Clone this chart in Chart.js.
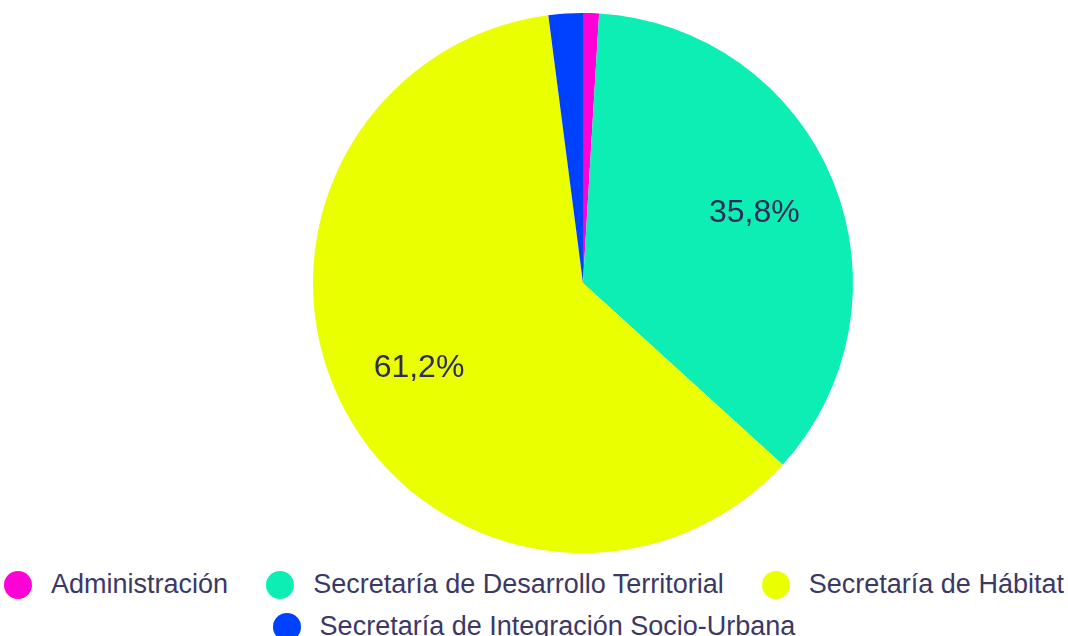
<!DOCTYPE html>
<html>
<head>
<meta charset="utf-8">
<script src="https://cdn.jsdelivr.net/npm/chart.js"></script>
<style>
    html, body { margin: 0; padding: 0; background: #fff; }
    body { width: 1068px; height: 636px; overflow: hidden; font-family: "Liberation Sans", Arial, sans-serif; }
    #wrap { width: 1068px; height: 566px; position: relative; }
    #legend { display: flex; flex-wrap: wrap; justify-content: center; column-gap: 38px; width: 1068px; margin-top: -2px; }
    #legend .item { display: flex; align-items: center; height: 41px; }
    #legend .item:nth-child(4) { position: relative; top: 1px; }
    #legend .dot { width: 28px; height: 28px; border-radius: 50%; margin-right: 19px; }
    #legend .txt { font-size: 27px; color: #3c3866; white-space: nowrap; }
</style>
</head>
<body>
<div id="wrap"><canvas id="pieChart"></canvas></div>
<div id="legend"></div>
<script>
// Datos del gráfico
const categorias = [
    'Administración',
    'Secretaría de Desarrollo Territorial',
    'Secretaría de Hábitat',
    'Secretaría de Integración Socio-Urbana'
];
const valores = [0.95, 35.8, 61.2, 2.05];
const colores = ['#FF00D6', '#0DEEB4', '#EAFF00', '#0040FF'];

// Porcentajes dentro de los sectores grandes
const etiquetasPct = {
    id: 'etiquetasPct',
    afterDatasetsDraw(chart) {
        const ctx = chart.ctx;
        const meta = chart.getDatasetMeta(0);
        const total = valores.reduce((a, b) => a + b, 0);
        ctx.save();
        ctx.font = '32px "Liberation Sans", Arial, sans-serif';
        ctx.fillStyle = '#2e2b58';
        ctx.textAlign = 'center';
        ctx.textBaseline = 'middle';
        meta.data.forEach((arc, i) => {
            const pct = valores[i] / total * 100;
            if (pct < 5) return;
            const p = arc.getProps(['x', 'y', 'startAngle', 'endAngle', 'outerRadius'], true);
            const mid = (p.startAngle + p.endAngle) / 2;
            const r = p.outerRadius * 0.685;
            ctx.fillText(pct.toFixed(1).replace('.', ',') + '%', p.x + Math.cos(mid) * r, p.y + Math.sin(mid) * r);
        });
        ctx.restore();
    }
};

const chart = new Chart(document.getElementById('pieChart'), {
    type: 'pie',
    data: {
        labels: categorias,
        datasets: [{
            data: valores,
            backgroundColor: colores,
            borderWidth: 0
        }]
    },
    options: {
        responsive: true,
        maintainAspectRatio: false,
        animation: false,
        layout: { padding: { left: 98, top: 13, bottom: 13 } },
        plugins: {
            legend: { display: false },
            tooltip: { enabled: false }
        }
    },
    plugins: [etiquetasPct]
});

// Leyenda HTML a partir de los datos del gráfico
const legend = document.getElementById('legend');
chart.data.labels.forEach((lab, i) => {
    const item = document.createElement('div');
    item.className = 'item';
    const dot = document.createElement('span');
    dot.className = 'dot';
    dot.style.background = chart.data.datasets[0].backgroundColor[i];
    const txt = document.createElement('span');
    txt.className = 'txt';
    txt.textContent = lab;
    item.appendChild(dot);
    item.appendChild(txt);
    legend.appendChild(item);
});
</script>
</body>
</html>
